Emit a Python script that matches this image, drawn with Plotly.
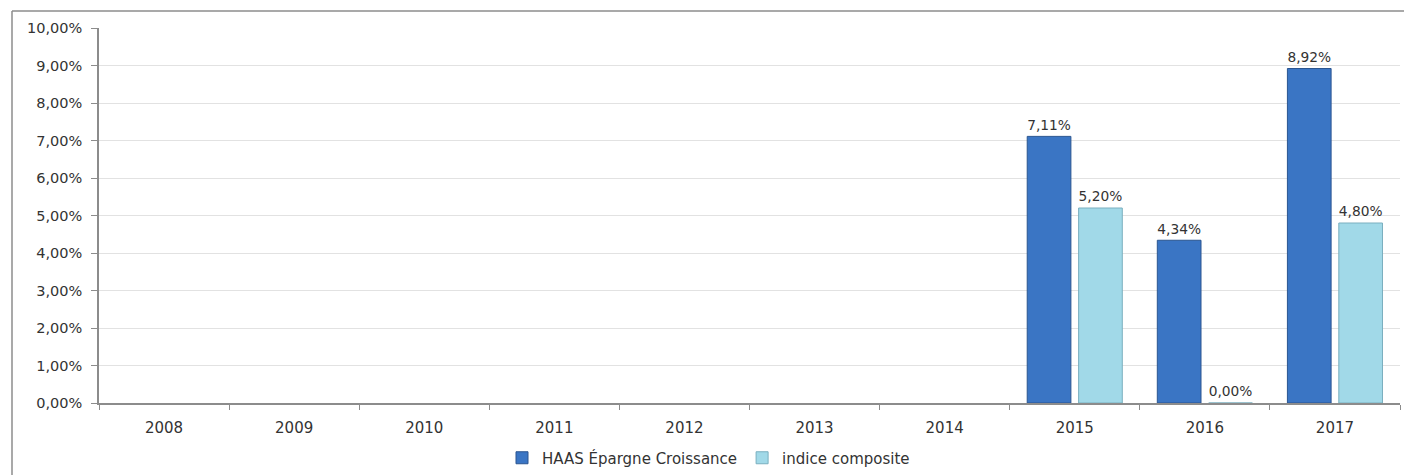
import plotly.graph_objects as go

years = ["2008", "2009", "2010", "2011", "2012", "2013", "2014", "2015", "2016", "2017"]
haas = [None, None, None, None, None, None, None, 7.11, 4.34, 8.92]
indice = [None, None, None, None, None, None, None, 5.20, 0.00, 4.80]
yticks = [0, 1, 2, 3, 4, 5, 6, 7, 8, 9, 10]

# the page body has an 8px margin, so the figure starts at (8, 8)
OFF = 8
W, H = 1412 - OFF, 475 - OFF
ml, mr, mt, mb = 99 - OFF, 12, 28 - OFF, 72
pw = W - ml - mr
ph = H - mt - mb

font = "DejaVu Sans, Verdana, sans-serif"
txtc = "#333333"
border = "#8c8c8c"

fig = go.Figure()
fig.add_trace(go.Bar(
    x=years, y=haas, name="HAAS Épargne Croissance",
    marker=dict(color="#3A75C4", line=dict(color="#2A5590", width=1)),
    texttemplate="%{y:.2f}%", textposition="outside",
    textfont=dict(family=font, size=15, color=txtc), cliponaxis=False,
))
fig.add_trace(go.Bar(
    x=years, y=indice, name="indice composite",
    marker=dict(color="#A1D9E8", line=dict(color="#7AAFBF", width=1)),
    texttemplate="%{y:.2f}%", textposition="outside",
    textfont=dict(family=font, size=15, color=txtc), cliponaxis=False,
))

bx0 = (12 - 99) / pw
by1 = (403 - 11) / ph
fig.update_layout(
    width=W, height=H,
    margin=dict(l=ml, r=mr, t=mt, b=mb, autoexpand=False),
    paper_bgcolor="white", plot_bgcolor="white",
    separators=", ",
    barmode="group", bargap=0.21, bargroupgap=0.15,
    font=dict(family=font, size=15, color=txtc),
    showlegend=True,
    legend=dict(orientation="h", x=(502 - 99) / pw, xanchor="left", y=-(458 - 403) / ph, yanchor="middle",
                font=dict(family=font, size=15, color=txtc), itemwidth=30),
    xaxis=dict(type="category", showgrid=False, showline=True, linecolor=border, linewidth=1.5,
               ticks="outside", tickson="boundaries", ticklen=5, tickcolor=border,
               ticklabelstandoff=10,
               tickfont=dict(family=font, size=15, color=txtc)),
    yaxis=dict(range=[0, 10], tickvals=yticks, ticktext=[f"{v:.2f}%".replace(".", ",") for v in yticks],
               showgrid=True, gridcolor="#e2e2e2", gridwidth=1,
               showline=True, linecolor=border, linewidth=1.5,
               ticks="outside", ticklen=6, tickcolor=border, zeroline=False,
               ticklabelstandoff=6,
               tickfont=dict(family=font, size=14.5, color=txtc)),
    shapes=[
        dict(type="line", xref="paper", yref="paper", x0=bx0, x1=1.2, y0=by1, y1=by1,
             line=dict(color=border, width=1.5), layer="below"),
        dict(type="line", xref="paper", yref="paper", x0=bx0, x1=bx0, y0=by1, y1=-0.5,
             line=dict(color=border, width=1.5), layer="below"),
    ],
)

fig.write_html("out.html")
